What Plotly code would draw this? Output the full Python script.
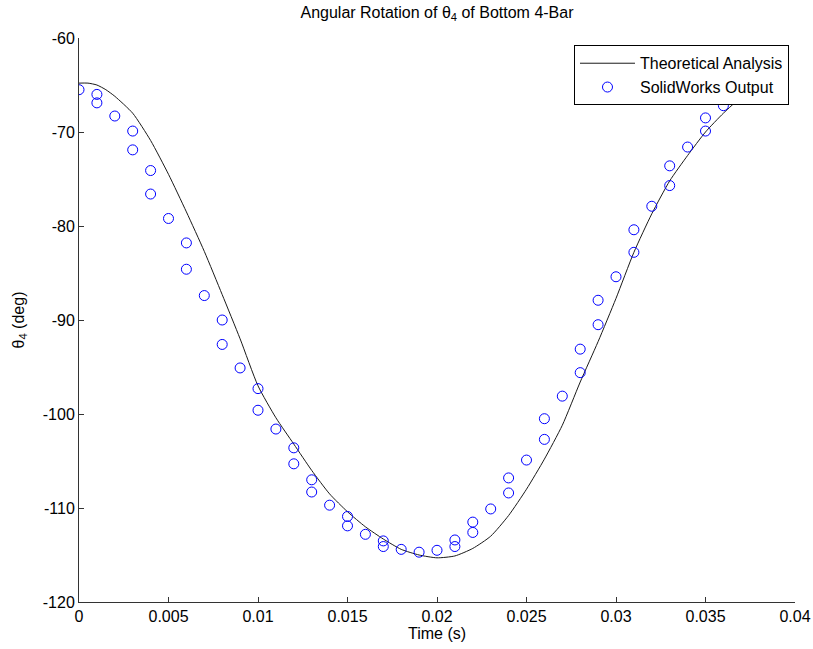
import plotly.graph_objects as go

# Theoretical analysis curve (time in s, theta4 in deg)
theory_t = [0.0, 0.0005, 0.001, 0.0015, 0.002, 0.003, 0.004, 0.005, 0.006, 0.007, 0.008,
            0.009, 0.010, 0.011, 0.012, 0.013, 0.014, 0.015, 0.016, 0.017, 0.018,
            0.019, 0.020, 0.021, 0.022, 0.023, 0.024, 0.025, 0.026, 0.027, 0.028,
            0.029, 0.030, 0.031, 0.032, 0.033, 0.034, 0.035, 0.036, 0.037, 0.038]
theory_deg = [-64.8, -64.8, -65.0, -65.5, -66.2, -68.0, -70.9, -74.5, -78.5, -82.7, -87.3,
              -92.0, -97.0, -100.4, -103.2, -106.0, -108.5, -110.4, -112.0, -113.3, -114.4,
              -115.0, -115.3, -115.1, -114.3, -113.0, -110.8, -108.0, -104.8, -101.2, -96.6,
              -92.3, -87.7, -82.8, -78.7, -75.2, -72.5, -70.0, -68.0, -66.3, -65.1]

# SolidWorks output samples
sw_t = [0.0, 0.001, 0.001, 0.002, 0.003, 0.003, 0.004, 0.004, 0.005, 0.006, 0.006,
        0.007, 0.008, 0.008, 0.009, 0.010, 0.010, 0.011, 0.012, 0.012, 0.013, 0.013,
        0.014, 0.015, 0.015, 0.016, 0.017, 0.017, 0.018, 0.019, 0.020, 0.021, 0.021,
        0.022, 0.022, 0.023, 0.024, 0.024, 0.025, 0.026, 0.026, 0.027, 0.028, 0.028,
        0.029, 0.029, 0.030, 0.031, 0.031, 0.032, 0.033, 0.033, 0.034, 0.035, 0.035,
        0.036, 0.037, 0.038]
sw_deg = [-65.5, -66.0, -66.9, -68.3, -69.9, -71.9, -74.1, -76.6, -79.2, -81.8, -84.6,
          -87.4, -90.0, -92.6, -95.1, -97.3, -99.6, -101.6, -103.6, -105.3, -107.0, -108.3,
          -109.7, -110.9, -111.9, -112.8, -113.5, -114.1, -114.4, -114.7, -114.5, -113.4, -114.1,
          -111.5, -112.6, -110.1, -106.8, -108.4, -104.9, -100.5, -102.7, -98.1, -93.1, -95.6,
          -87.9, -90.5, -85.4, -80.4, -82.8, -77.9, -73.6, -75.7, -71.6, -68.5, -69.9,
          -67.2, -66.3, -65.8]

x_ticks = [0, 0.005, 0.01, 0.015, 0.02, 0.025, 0.03, 0.035, 0.04]
x_tick_text = ["0", "0.005", "0.01", "0.015", "0.02", "0.025", "0.03", "0.035", "0.04"]
y_ticks = [-120, -110, -100, -90, -80, -70, -60]
y_tick_text = ["-120", "-110", "-100", "-90", "-80", "-70", "-60"]

FONT = "Liberation Sans, Arial, sans-serif"
FS = 16

fig = go.Figure()
fig.add_trace(go.Scatter(
    x=theory_t, y=theory_deg, mode="lines", name="Theoretical Analysis",
    line=dict(color="#1a1a1a", width=1, shape="spline", smoothing=0.6),
))
fig.add_trace(go.Scatter(
    x=sw_t, y=sw_deg, mode="markers", name="SolidWorks Output",
    marker=dict(symbol="circle-open", size=10, color="#0000ff", line=dict(width=1, color="#0000ff")),
))

fig.update_layout(
    width=813, height=649,
    margin=dict(l=79, r=18, t=38, b=47),
    paper_bgcolor="white", plot_bgcolor="white",
    font=dict(family=FONT, size=FS, color="#000000"),
    title=dict(text="Angular Rotation of θ<sub>4</sub> of Bottom 4-Bar",
               x=0.5375, xanchor="center", y=0.9815, yanchor="middle", yref="container",
               font=dict(family=FONT, size=FS, color="#000000")),
    showlegend=True,
    legend=dict(x=0.9916, xanchor="right", y=0.987, yanchor="top",
                bgcolor="white", bordercolor="#000000", borderwidth=1,
                font=dict(family=FONT, size=FS, color="#000000"),
                itemwidth=55, tracegroupgap=0),
    xaxis=dict(range=[0, 0.04], tickvals=x_ticks, ticktext=x_tick_text,
               automargin=False,
               ticks="inside", ticklen=5, tickcolor="#333333",
               showline=True, linecolor="#333333", linewidth=1,
               showgrid=False, zeroline=False,
               title=dict(text="Time (s)", standoff=3, font=dict(family=FONT, size=FS)),
               tickfont=dict(family=FONT, size=FS)),
    yaxis=dict(range=[-120, -60], tickvals=y_ticks, ticktext=y_tick_text,
               automargin=False,
               ticks="inside", ticklen=5, tickcolor="#333333",
               showline=True, linecolor="#333333", linewidth=1,
               showgrid=False, zeroline=False,
               title=dict(text="θ<sub>4</sub> (deg)", standoff=14, font=dict(family=FONT, size=FS)),
               tickfont=dict(family=FONT, size=FS)),
)

fig.write_html(
    "out.html",
    config={"displayModeBar": False},
    post_script=(
        "document.documentElement.style.margin='0';"
        "document.body.style.margin='0';"
        "document.body.style.overflow='hidden';"
        "document.documentElement.style.overflow='hidden';"
    ),
)
